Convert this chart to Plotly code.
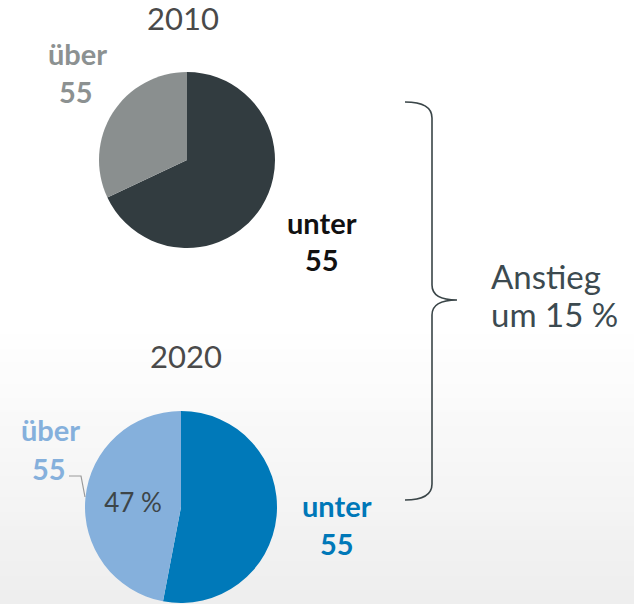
import plotly.graph_objects as go

# ---- data ----
years = ["2010", "2020"]
groups = ["unter 55", "über 55"]
share_2010 = [68, 32]
share_2020 = [53, 47]
inside_2020 = ["", "47 %"]
increase_lines = ["Anstieg", "um 15 %"]

W, H = 634, 604
FONT = "Lato"

def px_dom(x0, x1, y0, y1):
    return dict(x=[x0 / W, x1 / W], y=[1 - y1 / H, 1 - y0 / H])

fig = go.Figure()

fig.add_trace(go.Pie(
    labels=groups, values=share_2010, sort=False, direction="clockwise",
    marker=dict(colors=["#323c40", "#8a8f8f"], line=dict(width=0)),
    textinfo="none", hoverinfo="label+percent", showlegend=False,
    domain=px_dom(99, 275, 72, 248),
))
fig.add_trace(go.Pie(
    labels=groups, values=share_2020, sort=False, direction="clockwise",
    marker=dict(colors=["#0079b9", "#85b0dc"], line=dict(width=0)),
    text=inside_2020, textinfo="text", textposition="inside", insidetextorientation="horizontal",
    textfont=dict(family=FONT, size=26, color="#3d4548"),
    hoverinfo="label+percent", showlegend=False,
    domain=px_dom(85, 277, 411, 603),
))

# background gradient (white top -> light gray bottom)
shapes = []
n = 40
y_start, y_end = 320, H
for i in range(n):
    t = i / (n - 1)
    v = int(round(255 - t * (255 - 238)))
    ya = y_start + (y_end - y_start) * i / n
    yb = y_start + (y_end - y_start) * (i + 1) / n + 0.5
    shapes.append(dict(type="rect", xref="x", yref="y", x0=0, x1=W, y0=ya, y1=yb,
                       fillcolor=f"rgb({v},{v},{v})", line=dict(width=0), layer="below"))

# curly brace
shapes.append(dict(type="path", xref="x", yref="y",
                   path="M 405 102 Q 432 102 432 118 L 432 285 Q 432 300 457 300 "
                        "Q 432 300 432 315 L 432 484 Q 432 500 405 500",
                   line=dict(color="#3a4548", width=1.6)))
# leader line for "über 55" (2020)
shapes.append(dict(type="path", xref="x", yref="y",
                   path="M 69 476 L 81 476 L 85 497",
                   line=dict(color="#9a9a9a", width=1.2)))

def ann(text, x, y, size, color, bold=False, xanchor="center"):
    t = f"<b>{text}</b>" if bold else text
    return dict(text=t, x=x, y=y, xref="x", yref="y", showarrow=False,
                xanchor=xanchor, yanchor="middle",
                font=dict(family=FONT, size=size, color=color))

LS = 29
annotations = [
    ann(years[0], 183, 18, 31, "#4a4a4a"),
    ann(years[1], 186, 356, 31, "#4a4a4a"),
    ann("über", 77, 53, LS, "#8c9191", True),
    ann("55", 76, 91, LS, "#8c9191", True),
    ann("unter", 322, 222, LS, "#111111", True),
    ann("55", 322, 259, LS, "#111111", True),
    ann("über", 50, 429, LS, "#85b0dc", True),
    ann("55", 49, 468, LS, "#85b0dc", True),
    ann("unter", 337, 505, LS, "#0078b8", True),
    ann("55", 337, 543, LS, "#0078b8", True),
    ann(increase_lines[0], 489, 276, 33, "#3c4a50", xanchor="left"),
    ann(increase_lines[1], 489, 314, 33, "#3c4a50", xanchor="left"),
]

fig.update_layout(
    width=W, height=H, margin=dict(l=0, r=0, t=0, b=0),
    paper_bgcolor="white", plot_bgcolor="white",
    xaxis=dict(range=[0, W], visible=False, domain=[0, 1], fixedrange=True),
    yaxis=dict(range=[H, 0], visible=False, domain=[0, 1], fixedrange=True),
    shapes=shapes, annotations=annotations,
)

fig.write_html("out.html", config={"displayModeBar": False},
               post_script="document.body.style.margin='0px';")
